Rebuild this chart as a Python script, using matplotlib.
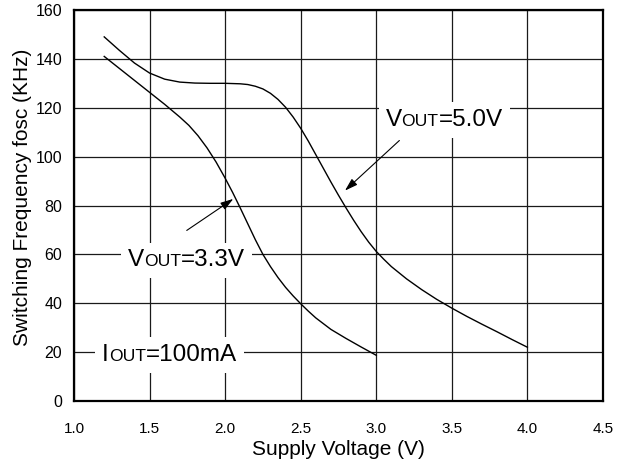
import matplotlib
matplotlib.use('Agg')
import matplotlib.pyplot as plt
from matplotlib.offsetbox import TextArea, HPacker, AnnotationBbox

plt.rcParams['font.family'] = ['Liberation Sans', 'DejaVu Sans']

# readings from the datasheet curve (Supply Voltage V -> fosc kHz)
v_50 = [1.20, 1.30, 1.40, 1.50, 1.60, 1.70, 1.80, 1.90, 2.00, 2.10, 2.15, 2.20,
        2.25, 2.30, 2.35, 2.40, 2.45, 2.50, 2.55, 2.60, 2.65, 2.70, 2.75, 2.80,
        2.85, 2.90, 2.95, 3.00, 3.05, 3.10, 3.20, 3.30, 3.40, 3.50, 3.60, 3.70,
        3.80, 3.90, 4.00]
f_50 = [149.0, 143.5, 138.3, 134.2, 131.7, 130.5, 130.1, 130.0, 130.0, 129.8,
        129.5, 128.8, 127.7, 125.9, 123.4, 120.2, 116.2, 111.6, 106.4, 100.8,
        95.2, 89.6, 84.2, 79.0, 74.0, 69.3, 65.0, 61.2, 58.0, 55.0, 50.0, 45.6,
        41.6, 38.0, 34.6, 31.4, 28.3, 25.1, 22.0]

v_33 = [1.20, 1.30, 1.40, 1.50, 1.60, 1.70, 1.76, 1.82, 1.88, 1.94, 2.00, 2.05,
        2.10, 2.15, 2.20, 2.25, 2.30, 2.35, 2.40, 2.45, 2.50, 2.55, 2.60, 2.70,
        2.80, 2.90, 3.00]
f_33 = [141.0, 136.1, 131.2, 126.3, 121.4, 116.2, 112.8, 108.6, 103.6, 97.8,
        91.2, 85.3, 79.0, 72.5, 66.0, 60.0, 55.0, 50.5, 46.5, 43.0, 39.8, 36.8,
        34.0, 29.3, 25.6, 22.1, 18.7]

x_ticks = [1.0, 1.5, 2.0, 2.5, 3.0, 3.5, 4.0, 4.5]
y_ticks = [0, 20, 40, 60, 80, 100, 120, 140, 160]


def sub_label(ax, main, sub, rest, xy, size=17.5):
    parts = [TextArea(main, textprops=dict(fontsize=size)),
             TextArea(sub, textprops=dict(fontsize=size * 0.72)),
             TextArea(rest, textprops=dict(fontsize=size))]
    pack = HPacker(children=parts, align='baseline', pad=0, sep=0)
    ab = AnnotationBbox(pack, xy, xycoords='data', frameon=True, pad=0.5,
                        bboxprops=dict(facecolor='white', edgecolor='none'),
                        box_alignment=(0.5, 0.5), zorder=3)
    ax.add_artist(ab)


fig = plt.figure(figsize=(6.26, 4.63), dpi=100)
ax = fig.add_axes([0.1182, 0.1339, 0.8450, 0.8445])

ax.plot(v_50, f_50, color='black', lw=1.0, zorder=2)
ax.plot(v_33, f_33, color='black', lw=1.0, zorder=2)

ax.set_xlim(1.0, 4.5)
ax.set_ylim(0, 160)
ax.set_xticks(x_ticks)
ax.set_xticklabels([f'{t:.1f}' for t in x_ticks], fontsize=11)
ax.set_yticks(y_ticks)
ax.set_yticklabels([str(t) for t in y_ticks], fontsize=11.5)
ax.tick_params(axis='x', length=0, pad=15)
ax.tick_params(axis='y', length=0, pad=8.5)
ax.grid(True, color='#1a1a1a', lw=0.9)

for s in ax.spines.values():
    s.set_linewidth(1.6)

ax.set_xlabel('Supply Voltage (V)', fontsize=15, labelpad=3)
ax.set_ylabel('Switching Frequency fosc (KHz)', fontsize=15)
ax.yaxis.set_label_coords(-0.079, 0.52)

sub_label(ax, 'V', 'OUT', '=5.0V', (3.449, 115.0))
sub_label(ax, 'V', 'OUT', '=3.3V', (1.745, 57.5))
sub_label(ax, 'I', 'OUT', '=100mA', (1.632, 18.7))

arrow = dict(arrowstyle='-|>,head_length=0.7,head_width=0.22', color='black',
             lw=0.8, mutation_scale=11, shrinkA=0, shrinkB=0)
ax.annotate('', xy=(2.054, 82.7), xytext=(1.746, 69.8), arrowprops=arrow)
ax.annotate('', xy=(2.793, 86.1), xytext=(3.153, 106.6), arrowprops=arrow)

fig.savefig('out.png', dpi=100)
